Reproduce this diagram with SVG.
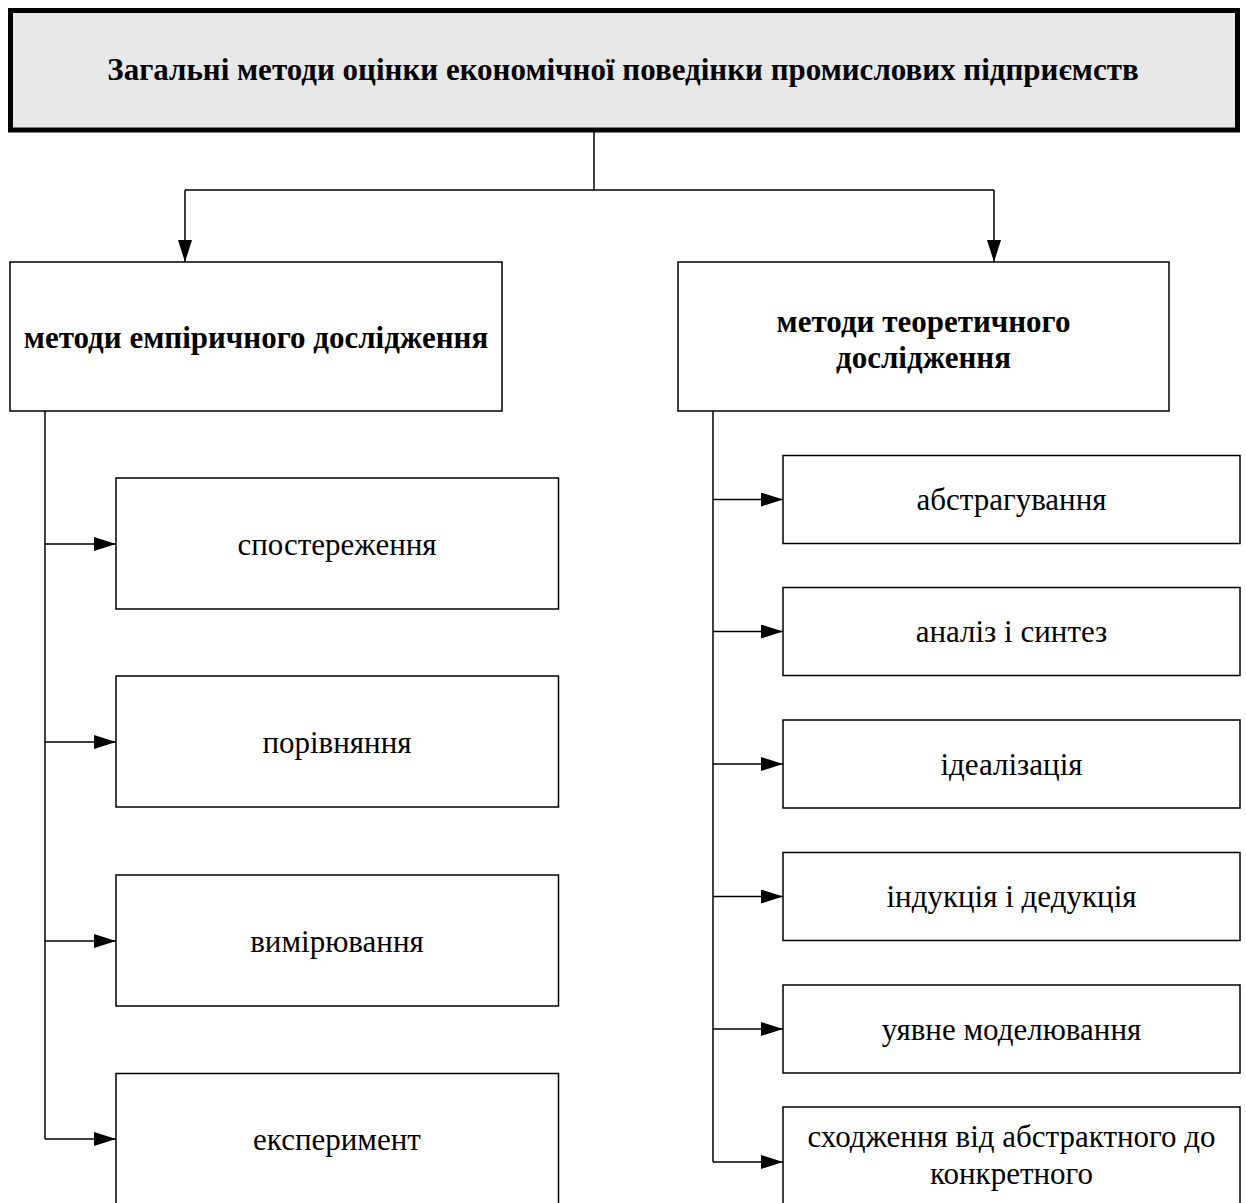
<svg xmlns="http://www.w3.org/2000/svg" width="1246" height="1203" viewBox="0 0 1246 1203">
  <style>
    .box { fill: #ffffff; stroke: #000000; stroke-width: 1.5; }
    .top { fill: #e8e8e8; stroke: #000000; stroke-width: 5; }
    .lbl { font-family: "Liberation Serif", "Times New Roman", serif; font-size: 31px; fill: #000000; text-anchor: middle; }
    .b { font-weight: bold; }
    .ln { fill: none; stroke: #000000; stroke-width: 1.5; }
  </style>
  <defs>
    <marker id="arr" markerUnits="userSpaceOnUse" markerWidth="23" markerHeight="15" refX="22" refY="7" orient="auto">
      <path d="M0,0 L22,7 L0,14 z" fill="#000000"/>
    </marker>
  </defs>
  <rect width="1246" height="1203" fill="#ffffff"/>

  <!-- connectors -->
  <g id="connectors">
    <path class="ln" d="M594,132 V190"/>
    <path class="ln" d="M185,190 H994"/>
    <path class="ln" d="M185,190 V262" marker-end="url(#arr)"/>
    <path class="ln" d="M994,190 V262" marker-end="url(#arr)"/>
    <!-- empirical branch -->
    <path class="ln" d="M45,411 V1139"/>
    <path class="ln" d="M45,544 H116" marker-end="url(#arr)"/>
    <path class="ln" d="M45,742 H116" marker-end="url(#arr)"/>
    <path class="ln" d="M45,941 H116" marker-end="url(#arr)"/>
    <path class="ln" d="M45,1139 H116" marker-end="url(#arr)"/>
    <!-- theoretical branch -->
    <path class="ln" d="M713,411 V1162"/>
    <path class="ln" d="M713,499.5 H783" marker-end="url(#arr)"/>
    <path class="ln" d="M713,631.5 H783" marker-end="url(#arr)"/>
    <path class="ln" d="M713,764 H783" marker-end="url(#arr)"/>
    <path class="ln" d="M713,896.5 H783" marker-end="url(#arr)"/>
    <path class="ln" d="M713,1029 H783" marker-end="url(#arr)"/>
    <path class="ln" d="M713,1162 H783" marker-end="url(#arr)"/>
  </g>

  <!-- root -->
  <g id="root">
    <rect class="top" x="10.5" y="10.5" width="1227" height="119.5"/>
    <text class="lbl b" x="623" y="80">Загальні методи оцінки економічної поведінки промислових підприємств</text>
  </g>

  <!-- level 1 -->
  <g id="empirical">
    <rect class="box" x="10" y="262" width="492" height="149"/>
    <text class="lbl b" x="256" y="348">методи емпіричного дослідження</text>
  </g>
  <g id="theoretical">
    <rect class="box" x="678" y="262" width="491" height="149"/>
    <text class="lbl b" x="923.5" y="332">методи теоретичного</text>
    <text class="lbl b" x="923.5" y="368">дослідження</text>
  </g>

  <!-- empirical methods -->
  <g id="observation">
    <rect class="box" x="116" y="478" width="442.5" height="131"/>
    <text class="lbl" x="337" y="555">спостереження</text>
  </g>
  <g id="comparison">
    <rect class="box" x="116" y="676" width="442.5" height="131"/>
    <text class="lbl" x="337" y="753">порівняння</text>
  </g>
  <g id="measurement">
    <rect class="box" x="116" y="875" width="442.5" height="131"/>
    <text class="lbl" x="337" y="952">вимірювання</text>
  </g>
  <g id="experiment">
    <rect class="box" x="116" y="1073.5" width="442.5" height="140"/>
    <text class="lbl" x="337" y="1150">експеримент</text>
  </g>

  <!-- theoretical methods -->
  <g id="abstraction">
    <rect class="box" x="783" y="455.5" width="457" height="88"/>
    <text class="lbl" x="1011.5" y="510">абстрагування</text>
  </g>
  <g id="analysis">
    <rect class="box" x="783" y="587.5" width="457" height="88"/>
    <text class="lbl" x="1011.5" y="642">аналіз і синтез</text>
  </g>
  <g id="idealization">
    <rect class="box" x="783" y="720" width="457" height="88"/>
    <text class="lbl" x="1011.5" y="775">ідеалізація</text>
  </g>
  <g id="induction">
    <rect class="box" x="783" y="852.5" width="457" height="88"/>
    <text class="lbl" x="1011.5" y="907">індукція і дедукція</text>
  </g>
  <g id="modelling">
    <rect class="box" x="783" y="985" width="457" height="88"/>
    <text class="lbl" x="1011.5" y="1040">уявне моделювання</text>
  </g>
  <g id="ascent">
    <rect class="box" x="783" y="1107" width="457" height="110"/>
    <text class="lbl" x="1011.5" y="1147">сходження від абстрактного до</text>
    <text class="lbl" x="1011.5" y="1184">конкретного</text>
  </g>
</svg>
